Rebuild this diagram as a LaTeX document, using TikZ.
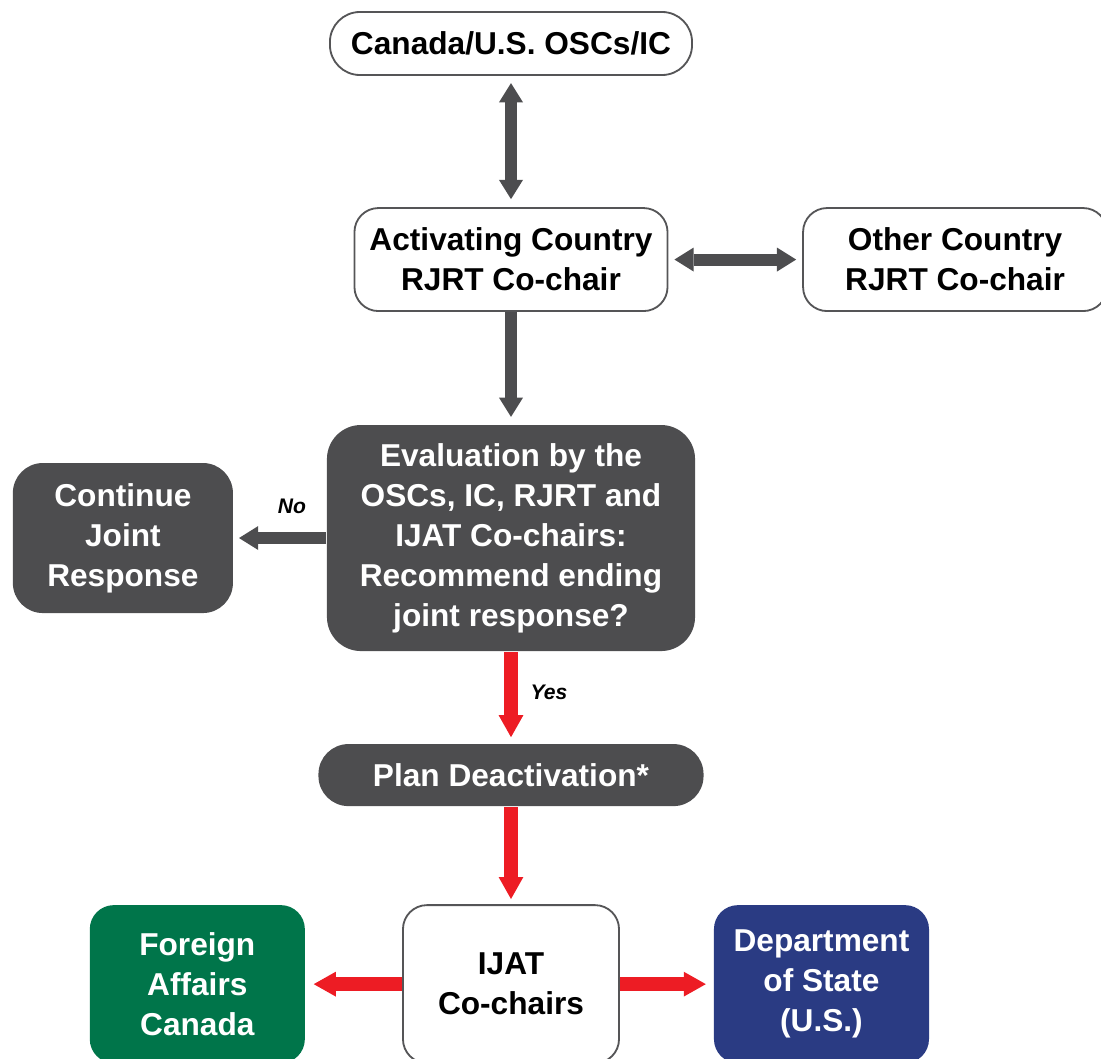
\documentclass[tikz,border=0pt]{standalone}
\usepackage{fontspec}
\setmainfont{Liberation Sans}
\usepackage{tikz}
\usetikzlibrary{arrows.meta, positioning}

\definecolor{boxgray}{RGB}{77,77,79}
\definecolor{linegray}{RGB}{85,85,87}
\definecolor{arrowred}{RGB}{237,28,36}
\definecolor{fagreen}{RGB}{0,117,74}
\definecolor{dosblue}{RGB}{42,59,131}

\tikzset{
  box/.style={draw=linegray, line width=1.3pt, fill=white, rounded corners=0.6cm,
    align=center, inner sep=0pt, font=\bfseries\fontsize{22.5}{28.5}\selectfont},
  pill/.style={box, rounded corners=0.75cm},
  darkbox/.style={box, draw=none, fill=boxgray, text=white},
  gflow/.style={color=boxgray, line width=0.3cm,
    >={Triangle[width=0.6cm,length=0.48cm,line width=0pt,sharp]}},
  rflow/.style={color=arrowred, line width=0.35cm,
    >={Triangle[width=0.62cm,length=0.55cm,line width=0pt,sharp]}},
  answer/.style={font=\bfseries\itshape\fontsize{15}{18}\selectfont, text=black}
}

\begin{document}
\begin{tikzpicture}[on grid, x=0.025cm, y=-0.025cm]
        \useasboundingbox (-511,-43.5) rectangle (590,1015.5);
        \node[pill, minimum width=9.05cm, minimum height=1.575cm]   (osc)                        {Canada/U.S. OSCs/IC};
        \node[box, minimum width=7.825cm, minimum height=2.575cm]   (actchair)  [below=5.4cm of osc]       {Activating Country\\RJRT Co-chair};
        \node[box, minimum width=7.6cm, minimum height=2.575cm]     (othchair)  [right=11.1cm of actchair] {Other Country\\RJRT Co-chair};
        \node[darkbox, rounded corners=0.85cm, minimum width=9.2cm, minimum height=5.65cm]
                                                                    (eval)      [below=6.96cm of actchair] {Evaluation by the\\OSCs, IC, RJRT and\\IJAT Co-chairs:\\Recommend ending\\joint response?};
        \node[darkbox, rounded corners=0.75cm, minimum width=5.5cm, minimum height=3.75cm]
                                                                    (cont)      [left=9.7cm of eval]       {Continue\\Joint\\Response};
        \node[darkbox, rounded corners=0.75cm, minimum width=9.625cm, minimum height=1.55cm]
                                                                    (deact)     [below=5.925cm of eval]    {Plan Deactivation*};
        \node[box, minimum width=5.4cm, minimum height=3.95cm]      (ijat)      [below=5.225cm of deact]   {IJAT\\Co-chairs};
        \node[darkbox, fill=fagreen, minimum width=5.375cm, minimum height=3.95cm]
                                                                    (fac)       [left=7.84cm of ijat]      {Foreign\\Affairs\\Canada};
        \node[darkbox, fill=dosblue, minimum width=5.375cm, minimum height=3.95cm]
                                                                    (dos)       [right=7.76cm of ijat]     {Department\\of State\\(U.S.)};
        \path[gflow]
          (osc)      edge [<->, shorten <=0.18cm, shorten >=0.2cm]  (actchair)
          (actchair) edge [<->, shorten <=0.15cm, shorten >=0.15cm] (othchair)
                     edge [->, shorten >=0.18cm]                    (eval)
          (eval)     edge [->, shorten >=0.13cm]
                          node [answer, above=0.35cm, xshift=0.3cm] {No} (cont);
        \path[rflow]
          (eval)     edge [->, shorten >=0.15cm]
                          node [answer, right=0.5cm, xshift=-0.3cm, yshift=0.12cm] {Yes} (deact)
          (deact)    edge [->, shorten >=0.13cm]                    (ijat)
          (ijat)     edge [->, shorten >=0.2cm]                     (fac)
                     edge [->, shorten >=0.18cm]                    (dos);
      \end{tikzpicture}
\end{document}
